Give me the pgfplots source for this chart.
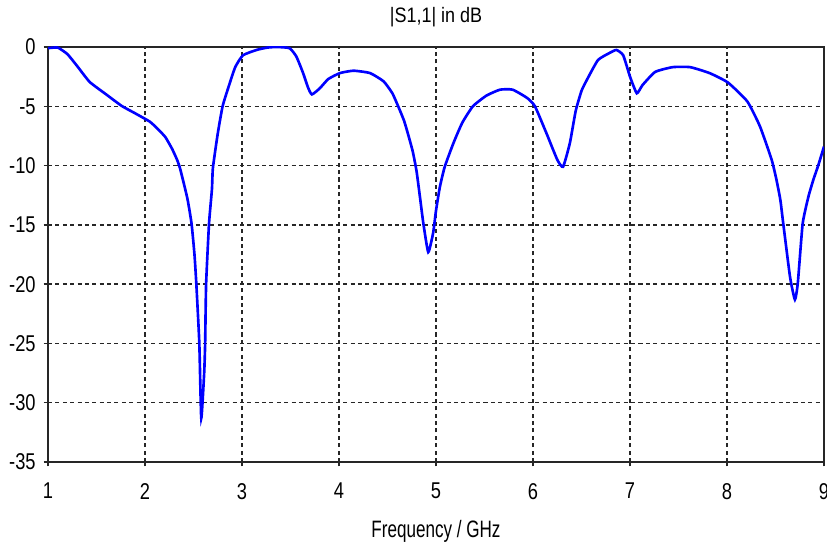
\documentclass[border=0pt]{standalone}
\usepackage{fontspec}
\setmainfont{Liberation Sans}
\newfontfamily\tickfont{Liberation Sans}[FakeStretch=0.8]
\newfontfamily\labfont{Liberation Sans}[FakeStretch=0.72]
\newfontfamily\titfont{Liberation Sans}[FakeStretch=0.86]
\usepackage{pgfplots}
\pgfplotsset{compat=1.18}
\usetikzlibrary{calc}

\begin{document}
\begin{tikzpicture}
\begin{axis}[
    scale only axis,
    width=15.52cm,
    height=8.3cm,
    xmin=1, xmax=9,
    ymin=-35, ymax=0,
    xtick={1,2,...,9},
    ytick={-35,-30,...,0},
    tick align=center,
    tick pos=left,
    major tick length=5pt,
    axis line style={line width=1.1pt, black!85},
    tick style={line width=0.8pt, black!85},
    grid=major,
    grid style={dash pattern=on 2.3pt off 1.9pt, line width=0.75pt, black!85},
    title={|S1,1| in dB},
    title style={font=\titfont\fontsize{11.9}{13}\selectfont,
        at={(0.5,1)}, anchor=base, yshift=8pt},
    xlabel={Frequency / GHz},
    xlabel style={font=\labfont\fontsize{13.5}{15}\selectfont,
        at={(0.5,0)}, anchor=base, yshift=-42.7pt},
    ticklabel style={font=\tickfont\fontsize{13}{15}\selectfont},
    /pgf/number format/assume math mode=true,
    yticklabel style={xshift=-1pt},
    xticklabel style={yshift=-6pt},
]
\addplot[blue, line width=1.5pt, smooth, tension=0.3] coordinates {
    (1.00,-0.1) (1.10,-0.05) (1.20,-0.6) (1.30,-1.6) (1.43,-2.95)
    (1.60,-4.0) (1.76,-4.97) (1.90,-5.6) (2.05,-6.3) (2.13,-6.9)
    (2.21,-7.6) (2.28,-8.6) (2.33,-9.5) (2.36,-10.2) (2.40,-11.5)
    (2.44,-12.9) (2.48,-14.9) (2.51,-17.5) (2.53,-20.1) (2.56,-25.0)
    (2.58,-31.3) (2.61,-27.5) (2.62,-25.0) (2.63,-20.0) (2.66,-14.9)
    (2.69,-12.0) (2.70,-10.2) (2.75,-7.3) (2.80,-5.0) (2.86,-3.4)
    (2.93,-1.7) (3.01,-0.7) (3.15,-0.25) (3.26,-0.05) (3.36,0.0)
    (3.49,-0.1) (3.56,-0.8) (3.63,-2.2) (3.68,-3.4) (3.72,-4.0)
    (3.80,-3.5) (3.89,-2.7) (4.01,-2.2) (4.15,-2.0) (4.32,-2.2)
    (4.46,-2.9) (4.55,-3.9) (4.61,-5.0) (4.67,-6.2) (4.71,-7.3)
    (4.76,-8.8) (4.80,-10.5) (4.84,-13.0) (4.87,-14.9) (4.92,-17.3)
    (4.97,-15.7) (5.00,-13.8) (5.04,-11.8) (5.09,-10.1) (5.18,-8.1)
    (5.27,-6.4) (5.38,-5.0) (5.52,-4.1) (5.66,-3.6) (5.79,-3.6)
    (5.94,-4.3) (6.02,-5.0) (6.14,-7.3) (6.25,-9.5) (6.31,-10.1)
    (6.38,-8.1) (6.44,-5.4) (6.50,-3.7) (6.56,-2.7) (6.67,-1.1)
    (6.79,-0.5) (6.86,-0.25) (6.93,-0.7) (7.00,-2.5) (7.07,-3.9)
    (7.13,-3.2) (7.26,-2.1) (7.44,-1.7) (7.62,-1.7) (7.82,-2.2)
    (8.01,-3.0) (8.21,-4.6) (8.34,-6.7) (8.46,-9.5) (8.51,-11.2)
    (8.55,-12.9) (8.58,-14.9) (8.65,-19.4) (8.70,-21.3) (8.73,-19.9)
    (8.78,-14.9) (8.84,-12.6) (8.89,-11.2) (8.94,-10.0) (9.00,-8.4)
};
\end{axis}
\pgfresetboundingbox
\path ($(current axis.south west)+(-0.96cm,-1.62cm)$)
    rectangle ($(current axis.north east)+(0.06cm,0.94cm)$);
\end{tikzpicture}
\end{document}
